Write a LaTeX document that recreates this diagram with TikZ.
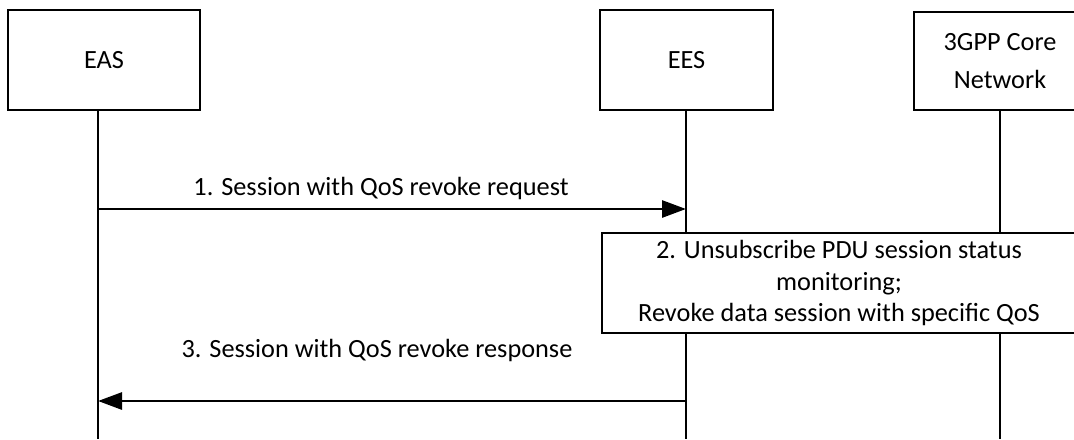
\documentclass[tikz,border=0pt]{standalone}
\usepackage{fontspec}
\setmainfont{Carlito}
\usetikzlibrary{arrows.meta, positioning}

\tikzset{
  entity/.style={draw, line width=1pt, fill=white, minimum height=50pt, align=center},
  lifeline/.style={line width=1pt},
  msg/.style={line width=1.4pt, -{Triangle[length=12pt, width=8.5pt]}},
  msglabel/.style={inner sep=0pt}
}

\begin{document}
\begin{tikzpicture}[x=0.5pt, y=-0.5pt, font=\fontsize{13.15}{15.8}\selectfont]
  \clip (0,0) rectangle (1074,439);
  % entities
  \node[entity, minimum width=96pt] (eas) at (104,60) {EAS};
  \node[entity, minimum width=86.5pt] (ees) at (686.5,60) {EES};
  \node[entity, minimum width=86pt, minimum height=49pt,
        font=\fontsize{13.15}{19}\selectfont] (core) at (1000,61) {3GPP Core\\Network};
  % lifelines
  \coordinate (eas-l) at (98,439);
  \coordinate (ees-l) at (686,439);
  \coordinate (core-l) at (1000,439);
  \draw[lifeline] (eas.south -| eas-l) -- (eas-l);
  \draw[lifeline] (ees.south -| ees-l) -- (ees-l);
  \draw[lifeline] (core.south -| core-l) -- (core-l);
  % 1. request
  \coordinate (m1) at (0,209);
  \draw[msg] (eas-l |- m1) -- (ees-l |- m1);
  \node[msglabel] (lab1) at (381,188) {1. Session with QoS revoke request};
  % 2. local step
  \node[entity, minimum width=237pt, inner sep=0pt] (step2) at (839,283)
    {2. Unsubscribe PDU session status\\monitoring;\\Revoke data session with specific QoS};
  % 3. response
  \coordinate (m3) at (0,401);
  \draw[msg] (ees-l |- m3) -- (eas-l |- m3);
  \node[msglabel] (lab3) at (377,350) {3. Session with QoS revoke response};
\end{tikzpicture}
\end{document}
